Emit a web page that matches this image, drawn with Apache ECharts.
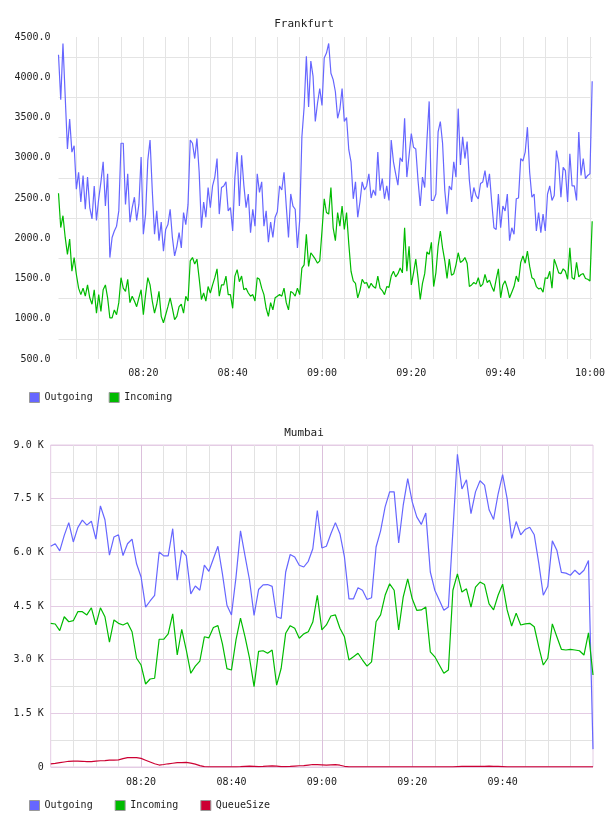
<!DOCTYPE html>
<html>
<head>
<meta charset="utf-8">
<script src="https://cdn.jsdelivr.net/npm/echarts@6/dist/echarts.min.js"></script>
<style>
  html, body { margin: 0; padding: 0; background: #fff; }
  #chart { width: 608px; height: 816px; }
</style>
</head>
<body>
<div id="chart"></div>
<script>
// Frankfurt: samples every 30 s from 08:01:00
const frStart = '08:01:00'
const frStepSec = 30
const frOut = [
  4280,3720,4420,3760,3110,3480,3070,3150,2610,2820,
  2450,2780,2360,2760,2380,2240,2650,2220,2490,2700,
  2950,2400,2800,1760,2010,2090,2150,2340,3180,3180,
  2420,2800,2200,2380,2510,2220,2420,3010,2050,2300,
  2970,3220,2590,2050,2340,1970,2200,1840,2110,2170,
  2360,2010,1780,1900,2070,1880,2320,2170,2420,3220,
  3180,2990,3240,2820,2130,2450,2260,2630,2380,2650,
  2760,2990,2300,2630,2650,2700,2340,2380,2090,2760,
  3070,2400,3030,2660,2380,2550,2070,2360,2150,2800,
  2570,2700,2150,2340,1950,2200,2010,2260,2330,2650,
  2600,2820,2400,2010,2550,2400,2360,1880,2220,3260,
  3630,4260,3630,4200,4010,3450,3680,3860,3650,4240,
  4300,4420,4050,3970,3820,3490,3600,3860,3450,3500,
  3100,2950,2490,2700,2260,2450,2700,2600,2650,2800,
  2500,2600,2530,3070,2590,2740,2490,2650,2470,3220,
  2950,2800,2660,3000,2950,3490,2760,3030,3300,3130,
  3110,2720,2400,2760,2630,3220,3700,2470,2470,2550,
  3320,3450,3180,2590,2300,2650,2600,2950,2760,3610,
  2910,3260,2990,3200,2720,2450,2630,2530,2490,2680,
  2700,2840,2630,2800,2450,2130,2110,2550,2130,2400,
  2340,2550,1970,2130,2050,2490,2500,2990,2960,3070,
  3380,2820,2510,2550,2090,2320,2070,2300,2090,2550,
  2650,2470,2530,3090,2930,2510,2880,2840,2450,3050,
  2650,2650,2470,3320,2780,2990,2740,2780,2800,3950
]
const frIn = [
  2558,2133,2280,2010,1800,1990,1590,1760,1550,1380,
  1300,1380,1280,1420,1260,1180,1360,1070,1300,1090,
  1360,1420,1260,1010,1010,1110,1050,1200,1510,1380,
  1340,1490,1200,1280,1220,1150,1260,1360,1050,1300,
  1510,1420,1220,1070,1180,1340,1030,950,1050,1150,
  1260,1130,990,1030,1150,1180,1070,1280,1220,1720,
  1760,1680,1740,1500,1240,1320,1220,1400,1320,1420,
  1510,1620,1280,1420,1420,1530,1300,1300,1130,1530,
  1610,1460,1530,1360,1380,1320,1280,1300,1220,1510,
  1490,1380,1300,1130,1030,1200,1110,1260,1280,1300,
  1280,1380,1200,1110,1340,1320,1280,1380,1300,1630,
  1670,2050,1650,1820,1780,1740,1690,1720,2090,2490,
  2320,2300,2630,2130,1970,2320,2150,2400,2110,2320,
  1930,1590,1470,1440,1260,1350,1490,1440,1450,1380,
  1440,1400,1380,1530,1380,1350,1300,1400,1390,1530,
  1590,1520,1560,1630,1570,2130,1590,1900,1420,1570,
  1740,1510,1240,1440,1560,1830,1800,1950,1400,1570,
  1900,2090,1880,1720,1500,1740,1540,1560,1670,1820,
  1700,1720,1760,1690,1400,1420,1450,1430,1510,1400,
  1430,1550,1450,1480,1400,1340,1490,1620,1260,1420,
  1470,1380,1260,1330,1400,1530,1460,1700,1780,1690,
  1840,1650,1510,1490,1400,1370,1380,1330,1510,1500,
  1590,1380,1740,1660,1570,1560,1620,1590,1490,1880,
  1510,1490,1700,1520,1550,1560,1500,1490,1470,2210
]
const frTicks = [500, 1000, 1500, 2000, 2500, 3000, 3500, 4000, 4500]

// Mumbai: samples every minute from 08:00
const mbStart = '08:00:00'
const mbStepSec = 60
const mbOut = [
  6170,6240,6040,6475,6830,6290,6690,6900,6760,6870,
  6370,7300,6910,5920,6430,6490,5910,6240,6370,5680,
  5310,4470,4640,4800,6010,5900,5900,6660,5220,6060,
  5900,4840,5060,4940,5640,5470,5820,6170,5400,4520,
  4250,5300,6600,5900,5220,4240,4960,5090,5100,5050,
  4200,4150,5450,5940,5870,5640,5590,5750,6100,7170,
  6120,6170,6520,6830,6520,5870,4700,4700,5010,4940,
  4680,4730,6150,6600,7270,7690,7690,6260,7310,8060,
  7410,6990,6780,7100,5450,4940,4660,4380,4470,6600,
  8740,7770,8030,7080,7690,8000,7880,7190,6920,7630,
  8170,7500,6390,6860,6490,6640,6700,6490,5700,4800,
  5050,6320,6060,5440,5420,5360,5500,5380,5500,5770,
  500
]
const mbIn = [
  4015,3997,3810,4200,4060,4090,4340,4340,4250,4450,
  3970,4450,4200,3490,4110,4015,3970,4030,3780,3040,
  2850,2320,2460,2480,3570,3570,3720,4280,3130,3850,
  3270,2620,2820,2960,3640,3610,3900,3950,3440,2750,
  2710,3550,4160,3640,3040,2245,3230,3250,3180,3270,
  2290,2760,3740,3950,3880,3600,3720,3780,4050,4800,
  3830,3970,4220,4250,3880,3640,2990,3080,3180,2990,
  2820,2940,4060,4250,4800,5120,4940,3830,4750,5260,
  4700,4380,4390,4470,3220,3080,2850,2620,2710,4940,
  5400,4890,4980,4470,5030,5170,5100,4560,4390,4800,
  5110,4390,3940,4300,3970,4000,4015,3920,3360,2850,
  3040,4000,3640,3290,3270,3290,3270,3250,3130,3750,
  2570
]
const mbQueue = [
  90,100,120,140,160,165,165,160,150,150,
  165,175,180,190,190,200,235,260,265,260,
  240,190,140,90,55,70,90,105,120,125,
  130,110,80,40,10,5,5,5,5,5,
  5,5,10,20,25,20,10,15,25,30,
  25,10,10,15,25,35,40,55,70,65,
  60,55,60,65,50,20,5,5,5,5,
  5,5,5,5,5,5,5,5,5,5,
  5,5,5,5,5,5,5,5,5,5,
  10,15,20,20,15,15,20,25,20,15,
  10,5,5,5,5,5,5,5,5,5,
  5,5,5,5,5,5,5,5,5,5,
  5
]
const mbTicks = [0, 1500, 3000, 4500, 6000, 7500, 9000]

const BLUE = '#6666ff'
const GREEN = '#00bb00'
const RED = '#cc0033'
const FONT = 'DejaVu Sans Mono'

// sample times as HH:MM:SS
function makeTimes(start, stepSec, n) {
  const p = start.split(':').map(Number)
  let s = p[0] * 3600 + p[1] * 60 + p[2]
  const out = []
  for (let i = 0; i < n; i++) {
    const h = Math.floor(s / 3600), m = Math.floor(s / 60) % 60, sec = s % 60
    out.push([h, m, sec].map(x => String(x).padStart(2, '0')).join(':'))
    s += stepSec
  }
  return out
}
const frTimes = makeTimes(frStart, frStepSec, frOut.length)
const mbTimes = makeTimes(mbStart, mbStepSec, mbOut.length)

const minOf = v => +v.slice(3, 5)
const onMark = (v, every) => v.slice(6) === '00' && minOf(v) % every === 0
const inner = (i, arr) => i > 0 && i < arr.length - 1

const labelStyle = { color: '#222', fontFamily: FONT, fontSize: 10 }

const chart = echarts.init(document.getElementById('chart'))
chart.setOption({
  animation: false,
  backgroundColor: '#fff',
  title: [
    { text: 'Frankfurt', left: 'center', top: 14, textStyle: { fontFamily: FONT, fontSize: 11, fontWeight: 'normal', color: '#222' } },
    { text: 'Mumbai', left: 'center', top: 423, textStyle: { fontFamily: FONT, fontSize: 11, fontWeight: 'normal', color: '#222' } }
  ],
  legend: [
    {
      data: ['Outgoing', 'Incoming'], left: 24, top: 387, icon: 'rect',
      itemWidth: 10, itemHeight: 10, itemGap: 16,
      itemStyle: { borderColor: '#999', borderWidth: 1 },
      textStyle: labelStyle
    },
    {
      data: ['Outgoing', 'Incoming', 'QueueSize'], left: 24, top: 795, icon: 'rect',
      itemWidth: 10, itemHeight: 10, itemGap: 22,
      itemStyle: { borderColor: '#999', borderWidth: 1 },
      textStyle: labelStyle
    }
  ],
  grid: [
    { left: 58.5, right: 15.7, top: 37, height: 322 },
    { left: 50.7, right: 15, top: 445, height: 322, show: true, borderColor: '#e4cce4', borderWidth: 1 }
  ],
  xAxis: [
    {
      type: 'category', gridIndex: 0, data: frTimes, boundaryGap: false,
      axisLine: { show: false }, axisTick: { show: false },
      axisLabel: { ...labelStyle, margin: 9, interval: (i, v) => onMark(v, 20), formatter: v => v.slice(0, 5) },
      splitLine: { show: true, interval: (i, v) => onMark(v, 5), lineStyle: { color: '#e4e4e4' } }
    },
    {
      type: 'category', gridIndex: 1, data: mbTimes, boundaryGap: false,
      axisLine: { show: false }, axisTick: { show: false },
      axisLabel: { ...labelStyle, margin: 10, interval: (i, v) => inner(i, mbTimes) && onMark(v, 20), formatter: v => v.slice(0, 5) },
      splitLine: { show: true, interval: (i, v) => inner(i, mbTimes) && onMark(v, 5) && !onMark(v, 20), lineStyle: { color: '#e2e2e2' } }
    },
    {
      type: 'category', gridIndex: 1, data: mbTimes, boundaryGap: false,
      axisLine: { show: false }, axisTick: { show: false }, axisLabel: { show: false },
      splitLine: { show: true, interval: (i, v) => inner(i, mbTimes) && onMark(v, 20), lineStyle: { color: '#dcc0dc' } }
    }
  ],
  yAxis: [
    {
      type: 'value', gridIndex: 0,
      min: frTicks[0], max: frTicks[frTicks.length - 1], interval: frTicks[1] - frTicks[0],
      axisLine: { show: false }, axisTick: { show: false },
      axisLabel: { ...labelStyle, margin: 8, formatter: v => v.toFixed(1) },
      splitLine: { show: false },
      minorTick: { show: false, splitNumber: 2 },
      minorSplitLine: { show: true, lineStyle: { color: '#e4e4e4' } }
    },
    {
      type: 'value', gridIndex: 1,
      min: mbTicks[0], max: mbTicks[mbTicks.length - 1], interval: mbTicks[1] - mbTicks[0],
      axisLine: { show: false }, axisTick: { show: false },
      axisLabel: { ...labelStyle, margin: 7, formatter: v => v === 0 ? '0' : (v / 1000).toFixed(1) + ' K' },
      splitLine: { show: true, lineStyle: { color: '#e4cce4' } },
      minorTick: { show: false, splitNumber: 2 },
      minorSplitLine: { show: true, lineStyle: { color: '#e2e2e2' } }
    }
  ],
  series: [
    { name: 'Outgoing', type: 'line', xAxisIndex: 0, yAxisIndex: 0, data: frOut, showSymbol: false, itemStyle: { color: BLUE }, lineStyle: { width: 1.2 } },
    { name: 'Incoming', type: 'line', xAxisIndex: 0, yAxisIndex: 0, data: frIn, showSymbol: false, itemStyle: { color: GREEN }, lineStyle: { width: 1.2 } },
    { name: 'Outgoing', type: 'line', xAxisIndex: 1, yAxisIndex: 1, data: mbOut, showSymbol: false, itemStyle: { color: BLUE }, lineStyle: { width: 1.2 } },
    { name: 'Incoming', type: 'line', xAxisIndex: 1, yAxisIndex: 1, data: mbIn, showSymbol: false, itemStyle: { color: GREEN }, lineStyle: { width: 1.2 } },
    { name: 'QueueSize', type: 'line', xAxisIndex: 1, yAxisIndex: 1, data: mbQueue, showSymbol: false, itemStyle: { color: RED }, lineStyle: { width: 1.2 } }
  ]
})
</script>
</body>
</html>
